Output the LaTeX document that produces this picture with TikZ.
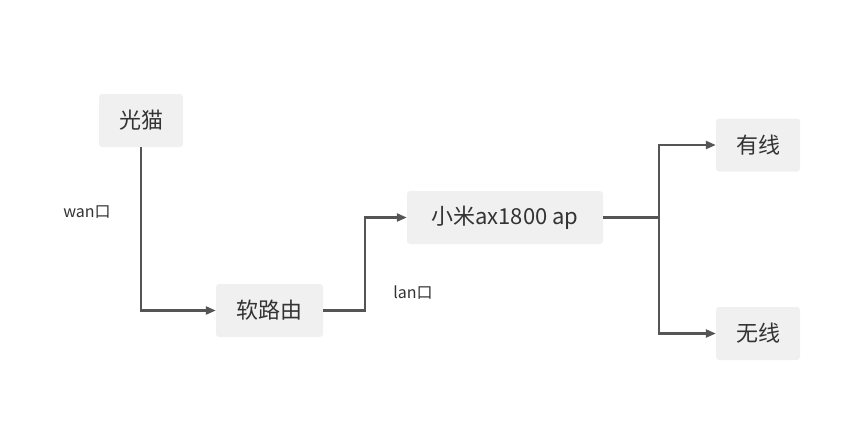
\documentclass[tikz,border=0pt]{standalone}
\usepackage{fontspec}
\setmainfont{Noto Sans CJK SC}
\usetikzlibrary{arrows.meta}
\definecolor{boxgray}{HTML}{EFF0EF}
\definecolor{linegray}{HTML}{555555}
\definecolor{textgray}{HTML}{333333}

\begin{document}
\begin{tikzpicture}[x=1pt,y=-1pt,
    box/.style={fill=boxgray, rounded corners=3pt, minimum height=53pt, inner sep=0pt,
      text=textgray, font=\fontsize{22}{26}\selectfont},
    link/.style={draw=linegray, line width=2.2pt, -{Triangle[length=10pt,width=8pt]}},
    port/.style={text=textgray, font=\fontsize{16}{19}\selectfont}]
  \useasboundingbox (0,0) rectangle (861,439);
  % boxes
  \node [box, minimum width=84pt] (modem) at (141,120.5) {光猫};
  \node [box, minimum width=107pt] (router) at (269.5,310.5) {软路由};
  \node [box, minimum width=196pt] (ap) at (505,217.5) {小米ax1800 ap};
  \node [box, minimum width=84pt] (wired) at (758,145) {有线};
  \node [box, minimum width=84pt] (wifi) at (758,333.5) {无线};
  % port labels
  \node [port] (wan) at (87,212) {wan口};
  \node [port] (lan) at (413,293) {lan口};
  % links
  \coordinate (split) at (659,217.5);
  \draw [link] (modem.south) |- (router.west);
  \draw [link] (router.east) -- ++(42,0) |- (ap.west);
  \draw [draw=linegray, line width=2.2pt] (ap.east) -- (split);
  \draw [link] (split) |- (wired.west);
  \draw [link] (split) |- (wifi.west);
\end{tikzpicture}
\end{document}
